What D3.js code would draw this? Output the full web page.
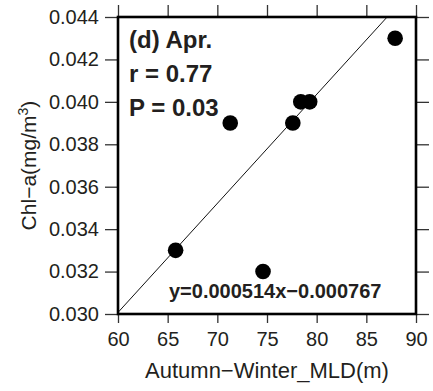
<!DOCTYPE html>
<html>
<head>
<meta charset="utf-8">
<script src="https://cdn.jsdelivr.net/npm/d3@7"></script>
<style>
  body { margin: 0; background: #fff; }
  text { font-family: "Liberation Sans", Arial, sans-serif; fill: #231f20; }
</style>
</head>
<body>
<div id="container"></div>
<script>
// data
var mld = [87.9, 71.3, 78.4, 79.3, 77.6, 65.8, 74.6];
var chla = [0.0430, 0.0390, 0.0400, 0.0400, 0.0390, 0.0330, 0.0320];
var xTicks = [60, 65, 70, 75, 80, 85, 90];
var yTicks = [0.030, 0.032, 0.034, 0.036, 0.038, 0.040, 0.042, 0.044];
var slope = 0.000514, intercept = -0.000767;
var notes = ["(d) Apr.", "r = 0.77", "P = 0.03"];
var eqLabel = "y=0.000514x\u22120.000767";

var w = 433, h = 391;
var margin = {top: 17, right: 17, bottom: 77, left: 118};

var svg = d3.select("div#container")
            .append("svg")
            .attr("width", w)
            .attr("height", h);

var x = d3.scaleLinear().domain([60, 90]).range([margin.left, w - margin.right]);
var y = d3.scaleLinear().domain([0.030, 0.044]).range([h - margin.bottom, margin.top]);

// axes on all four sides, ticks outward
svg.append("g")
    .attr("transform", "translate(0," + y(0.030) + ")")
    .call(d3.axisBottom(x).tickValues(xTicks).tickSize(9).tickSizeOuter(0).tickPadding(9));
svg.append("g")
    .attr("transform", "translate(" + x(60) + ",0)")
    .call(d3.axisLeft(y).tickValues(yTicks).tickFormat(d3.format(".3f")).tickSize(13).tickSizeOuter(0).tickPadding(6));
svg.append("g")
    .attr("transform", "translate(0," + y(0.044) + ")")
    .call(d3.axisTop(x).tickValues(xTicks).tickSize(12).tickSizeOuter(0).tickFormat(""));
svg.append("g")
    .attr("transform", "translate(" + x(90) + ",0)")
    .call(d3.axisRight(y).tickValues(yTicks).tickSize(13).tickSizeOuter(0).tickFormat(""));

svg.selectAll(".domain").remove();
svg.selectAll(".tick line").attr("stroke", "#333").attr("stroke-width", 1.3);
svg.selectAll(".tick text")
   .style("font-family", "'Liberation Sans', Arial, sans-serif")
   .style("font-size", "20px")
   .attr("fill", "#231f20");

// regression line, clipped to the frame
svg.append("clipPath").attr("id", "clip")
   .append("rect")
   .attr("x", x(60)).attr("y", y(0.044))
   .attr("width", x(90) - x(60)).attr("height", y(0.030) - y(0.044));

svg.append("line")
   .attr("clip-path", "url(#clip)")
   .attr("x1", x(60)).attr("y1", y(slope * 60 + intercept))
   .attr("x2", x(90)).attr("y2", y(slope * 90 + intercept))
   .attr("stroke", "#111")
   .attr("stroke-width", 1);

// points
svg.selectAll("circle.pt")
   .data(mld)
   .enter()
   .append("circle")
   .attr("class", "pt")
   .attr("cx", function(d) { return x(d); })
   .attr("cy", function(d, i) { return y(chla[i]); })
   .attr("r", 7.8)
   .attr("fill", "#000");

// frame
svg.append("rect")
   .attr("x", x(60)).attr("y", y(0.044))
   .attr("width", x(90) - x(60)).attr("height", y(0.030) - y(0.044))
   .attr("fill", "none")
   .attr("stroke", "#000")
   .attr("stroke-width", 2.6);

// annotations
svg.selectAll("text.note")
   .data(notes)
   .enter()
   .append("text")
   .attr("class", "note")
   .attr("x", 129)
   .attr("y", function(d, i) { return 48 + i * 34; })
   .style("font-size", "24px")
   .style("font-weight", "bold")
   .text(function(d) { return d; });

svg.append("text")
   .attr("x", 169)
   .attr("y", 298)
   .style("font-size", "20px")
   .style("font-weight", "bold")
   .text(eqLabel);

// axis titles
svg.append("text")
   .attr("x", (x(60) + x(90)) / 2)
   .attr("y", 378)
   .attr("text-anchor", "middle")
   .style("font-size", "22px")
   .text("Autumn\u2212Winter_MLD(m)");

var yt = svg.append("text")
   .attr("transform", "translate(36," + ((y(0.030) + y(0.044)) / 2) + ") rotate(-90)")
   .attr("text-anchor", "middle")
   .style("font-size", "21px");
yt.append("tspan").text("Chl\u2212a(mg/m");
yt.append("tspan").attr("dy", -8).style("font-size", "14px").text("3");
yt.append("tspan").attr("dy", 8).text(")");
</script>
</body>
</html>
